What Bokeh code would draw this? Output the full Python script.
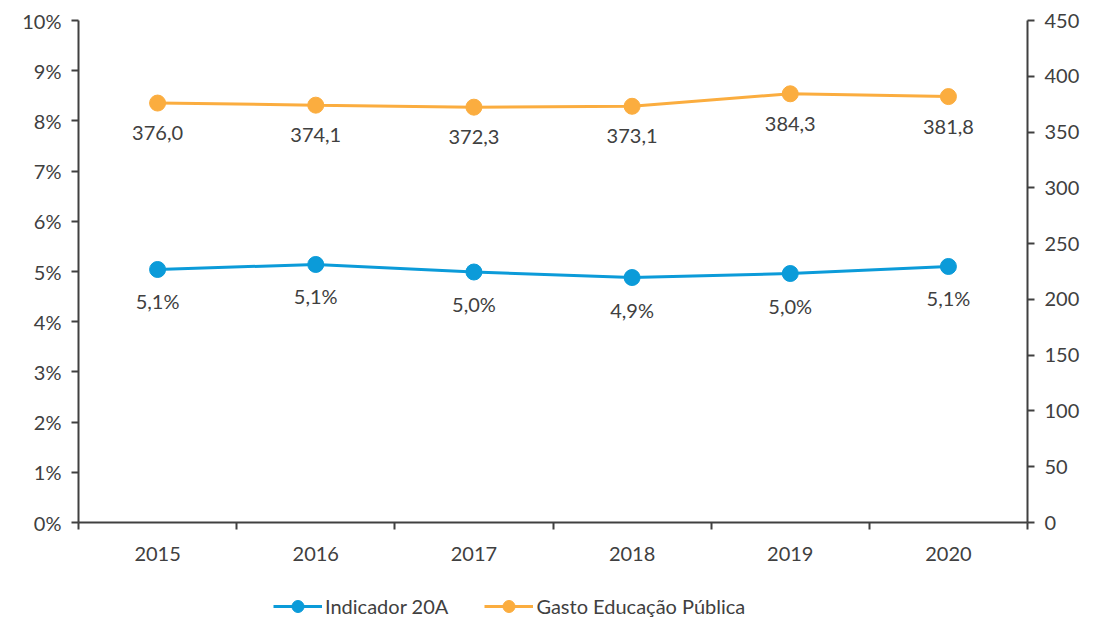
from bokeh.plotting import figure
from bokeh.layouts import column
from bokeh.models import (Range1d, LinearAxis, FixedTicker, Legend, LegendItem,
                          ColumnDataSource)
from bokeh.core.properties import value
from bokeh.embed import file_html
from bokeh.resources import INLINE

years = ["2015", "2016", "2017", "2018", "2019", "2020"]
indicador = [5.04, 5.14, 4.99, 4.88, 4.96, 5.10]
indicador_labels = ["5,1%", "5,1%", "5,0%", "4,9%", "5,0%", "5,1%"]
gasto = [376.0, 374.1, 372.3, 373.1, 384.3, 381.8]
gasto_labels = ["376,0", "374,1", "372,3", "373,1", "384,3", "381,8"]
series_names = ["Indicador 20A", "Gasto Educação Pública"]
left_ticks = list(range(0, 11))
right_ticks = list(range(0, 451, 50))

FONT = "Lato"
TXT = "#404040"
BLUE = "#0B9BD9"
ORANGE = "#FBAD3F"
FS = "20px"

xs = [i + 0.5 for i in range(len(years))]
src = ColumnDataSource(dict(x=xs, ind=indicador, indl=indicador_labels,
                            g=gasto, gl=gasto_labels))

p = figure(width=1085, height=574, output_backend="svg", toolbar_location=None,
           x_range=Range1d(0, len(years)), y_range=Range1d(0, 10),
           min_border_left=78, min_border_right=58, min_border_top=20,
           min_border_bottom=52)
p.outline_line_color = None
p.grid.visible = False
p.background_fill_color = "white"
p.border_fill_color = "white"

p.extra_y_ranges = {"right": Range1d(0, 450)}

ya = p.yaxis[0]
ya.ticker = FixedTicker(ticks=left_ticks)
ya.major_label_overrides = {t: f"{t}%" for t in left_ticks}

ra = LinearAxis(y_range_name="right", ticker=FixedTicker(ticks=right_ticks))
p.add_layout(ra, "right")

xa = p.xaxis[0]
xa.ticker = FixedTicker(ticks=xs, minor_ticks=list(range(len(years) + 1)))
xa.major_label_overrides = {x: y for x, y in zip(xs, years)}
xa.major_tick_out = 0
xa.major_tick_in = 0
xa.minor_tick_out = 7
xa.minor_tick_in = 0

for ax in [ya, ra, xa]:
    ax.axis_line_color = TXT
    ax.axis_line_width = 2
    ax.major_tick_line_color = TXT
    ax.major_tick_line_width = 2
    ax.major_label_text_font = FONT
    ax.major_label_text_font_size = FS
    ax.major_label_text_color = TXT
for ax in [ya, ra]:
    ax.major_tick_out = 7
    ax.major_tick_in = 0
    ax.minor_tick_line_color = None
    ax.major_label_standoff = 10
xa.minor_tick_line_color = TXT
xa.minor_tick_line_width = 2
xa.major_label_standoff = 17

p.line("x", "ind", source=src, color=BLUE, line_width=3)
p.scatter("x", "ind", source=src, size=16, color=BLUE)
p.line("x", "g", source=src, color=ORANGE, line_width=3, y_range_name="right")
p.scatter("x", "g", source=src, size=16, color=ORANGE, y_range_name="right")

p.text("x", "ind", text="indl", source=src, y_offset=32, text_align="center",
       text_baseline="middle", text_font=value(FONT), text_font_size=FS,
       text_color=TXT)
p.text("x", "g", text="gl", source=src, y_offset=30, text_align="center",
       text_baseline="middle", text_font=value(FONT), text_font_size=FS,
       text_color=TXT, y_range_name="right")

# legend strip below the chart (series drawn again but outside this strip's ranges)
lg = figure(width=1085, height=47, output_backend="svg", toolbar_location=None,
            x_range=Range1d(0, len(years)), y_range=Range1d(-2, -1),
            min_border_left=0, min_border_right=0, min_border_top=0,
            min_border_bottom=0)
lg.axis.visible = False
lg.grid.visible = False
lg.outline_line_color = None
lg.border_fill_color = "white"
dl1 = lg.line("x", "ind", source=src, color=BLUE, line_width=3)
dc1 = lg.scatter("x", "ind", source=src, color=BLUE, size=16)
dl2 = lg.line("x", "g", source=src, color=ORANGE, line_width=3)
dc2 = lg.scatter("x", "g", source=src, color=ORANGE, size=16)

legend = Legend(items=[LegendItem(label=series_names[0], renderers=[dl1, dc1]),
                       LegendItem(label=series_names[1], renderers=[dl2, dc2])],
                orientation="horizontal", location=(195, 0),
                label_text_font=FONT, label_text_font_size=FS,
                label_text_color=TXT, glyph_width=49, glyph_height=30,
                label_standoff=3, spacing=36, border_line_color=None,
                background_fill_alpha=0, margin=0, padding=0)
lg.add_layout(legend, "center")

layout = column(p, lg, spacing=0)
open("out.html", "w").write(file_html(layout, INLINE))
